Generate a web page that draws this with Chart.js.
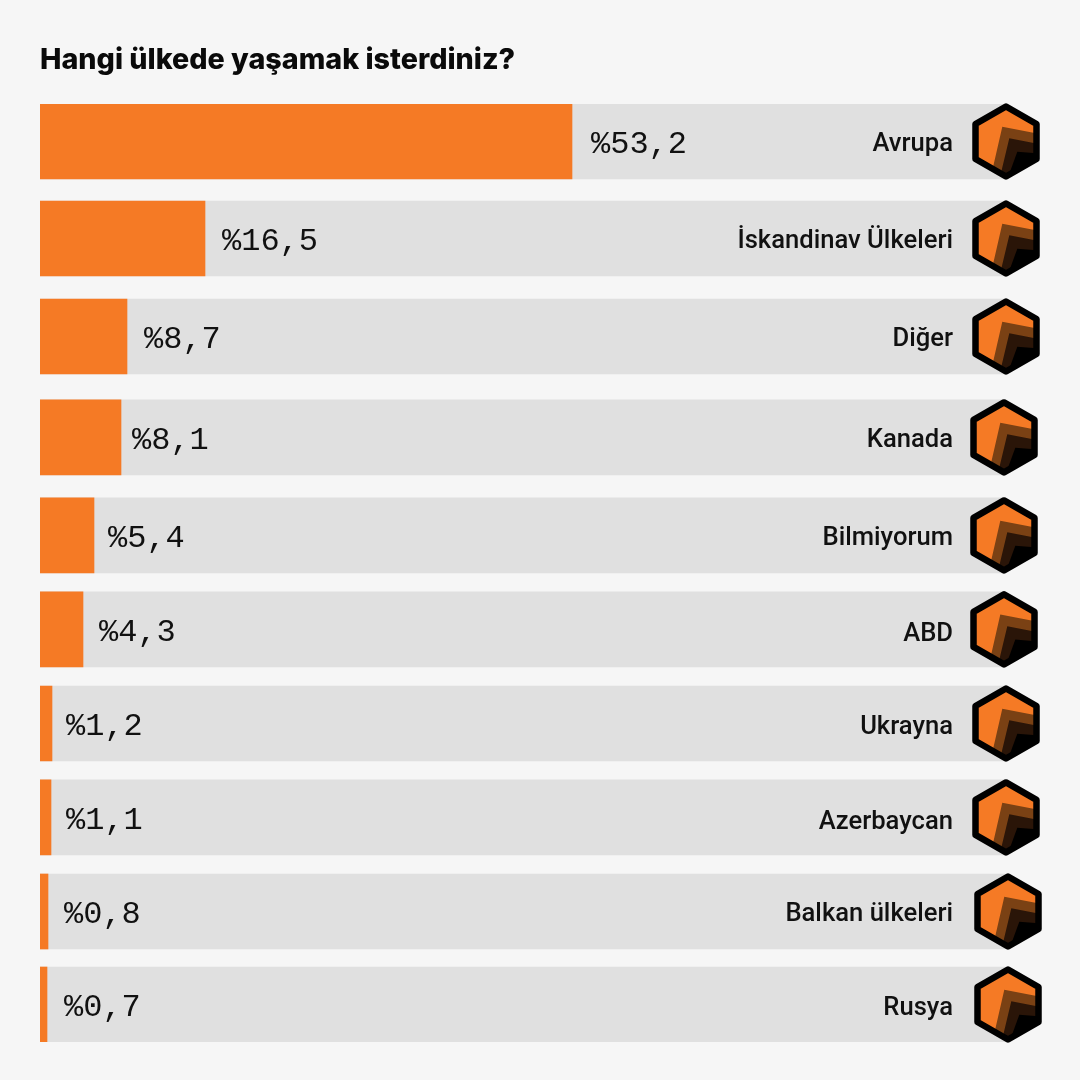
<!DOCTYPE html>
<html><head><meta charset="utf-8">
<style>html,body{margin:0;padding:0;background:#f6f6f6}canvas{display:block}</style>
<script src="https://cdn.jsdelivr.net/npm/chart.js@4"></script>
</head><body>
<div style="width:1080px;height:1080px"><canvas id="c" width="1080" height="1080"></canvas></div>
<script>
const titleText = "Hangi ülkede yaşamak isterdiniz?";
const categories = ["Avrupa","İskandinav Ülkeleri","Diğer","Kanada","Bilmiyorum","ABD","Ukrayna","Azerbaycan","Balkan ülkeleri","Rusya"];
const values = [53.2,16.5,8.7,8.1,5.4,4.3,1.2,1.1,0.8,0.7];
const valueLabels = ["%53,2","%16,5","%8,7","%8,1","%5,4","%4,3","%1,2","%1,1","%0,8","%0,7"];
// Row spacing of the layout, in row units on the y scale (the rows are not evenly spaced).
const rowSlots = [0,1.011,2.033,3.086,4.108,5.088,6.069,7.049,8.03,9];
const trackEnd = 96.5;
const ORANGE="#f57a25", TRACK="#e0e0e0";

function hexPath(ctx,cx,cy){
  ctx.beginPath();
  ctx.moveTo(cx,cy-35);ctx.lineTo(cx+30.5,cy-17.5);ctx.lineTo(cx+30.5,cy+17.5);
  ctx.lineTo(cx,cy+35);ctx.lineTo(cx-30.5,cy+17.5);ctx.lineTo(cx-30.5,cy-17.5);ctx.closePath();
}
function layer(ctx,cx,cy,color,ax,ay,lx,ly,rx,ry){
  ctx.fillStyle=color;ctx.beginPath();
  ctx.moveTo(cx+lx,cy+ly);ctx.lineTo(cx+ax,cy+ay);ctx.lineTo(cx+rx,cy+ry);
  ctx.lineTo(cx+60,cy+ry+4);ctx.lineTo(cx+60,cy+60);ctx.lineTo(cx+lx,cy+60);ctx.closePath();ctx.fill();
}
const rowsPlugin={
  id:"rows",
  afterDatasetsDraw(chart){
    const {ctx,scales:{x,y}}=chart;
    const hexX=[1006,1006,1006,1004,1004,1004,1006,1006,1008,1008];
    const labelGaps=[19,17,17,11,14,16,14,15,16,17];
    const nameNudge=[3,3,3,3,3,5,4,5,3,4];
    values.forEach((v,i)=>{
      const cy=y.getPixelForValue(rowSlots[i]);
      ctx.save();
      ctx.textBaseline="middle";
      ctx.font='32px "Liberation Mono"';ctx.fillStyle="#111";ctx.textAlign="left";
      ctx.fillText(valueLabels[i],x.getPixelForValue(v)+labelGaps[i],cy+3);
      ctx.font='500 25.6px Roboto';ctx.textAlign="right";
      ctx.fillText(categories[i],953,cy+nameNudge[i]);
      const cx=hexX[i];
      ctx.save();hexPath(ctx,cx,cy);ctx.clip();
      ctx.fillStyle=ORANGE;ctx.fillRect(cx-40,cy-40,80,80);
      layer(ctx,cx,cy,"#7a4114",-3.7,-14.8,-12.7,24.5,27.3,-8.8);
      layer(ctx,cx,cy,"#2a1508",3.3,-3.2,-4.3,28.5,29,1.8);
      layer(ctx,cx,cy,"#000",11.3,10.2,2,35.8,30.7,11.8);
      ctx.restore();
      hexPath(ctx,cx,cy);ctx.lineWidth=6.5;ctx.lineJoin="round";ctx.strokeStyle="#000";ctx.stroke();
      ctx.restore();
    });
  }
};
Chart.defaults.animation=false;
new Chart(document.getElementById("c"),{
  type:"bar",
  data:{labels:categories,datasets:[
    {label:"Oran",data:values.map((v,i)=>({x:v,y:rowSlots[i]})),backgroundColor:ORANGE,order:1,grouped:false,barThickness:75},
    {label:"Zemin",data:values.map((v,i)=>({x:trackEnd,y:rowSlots[i]})),backgroundColor:TRACK,order:2,grouped:false,barThickness:75}
  ]},
  options:{
    indexAxis:"y",responsive:false,animation:false,
    layout:{padding:{left:40,right:0,top:0,bottom:38}},
    scales:{
      x:{type:"linear",display:false,min:0,max:104},
      y:{type:"linear",display:false,offset:false,reverse:true,min:-0.391,max:9.391}
    },
    plugins:{
      legend:{display:false},tooltip:{enabled:false},
      title:{display:true,text:titleText,align:"start",color:"#0a0a0a",
        font:{family:'Inter',size:28.7,weight:"800",lineHeight:1.2},padding:{top:43,bottom:26.6}}
    }
  },
  plugins:[rowsPlugin,{id:"bg",beforeDraw(c){c.ctx.save();c.ctx.fillStyle="#f6f6f6";c.ctx.fillRect(0,0,1080,1080);c.ctx.restore();}}]
});
</script>
</body></html>
